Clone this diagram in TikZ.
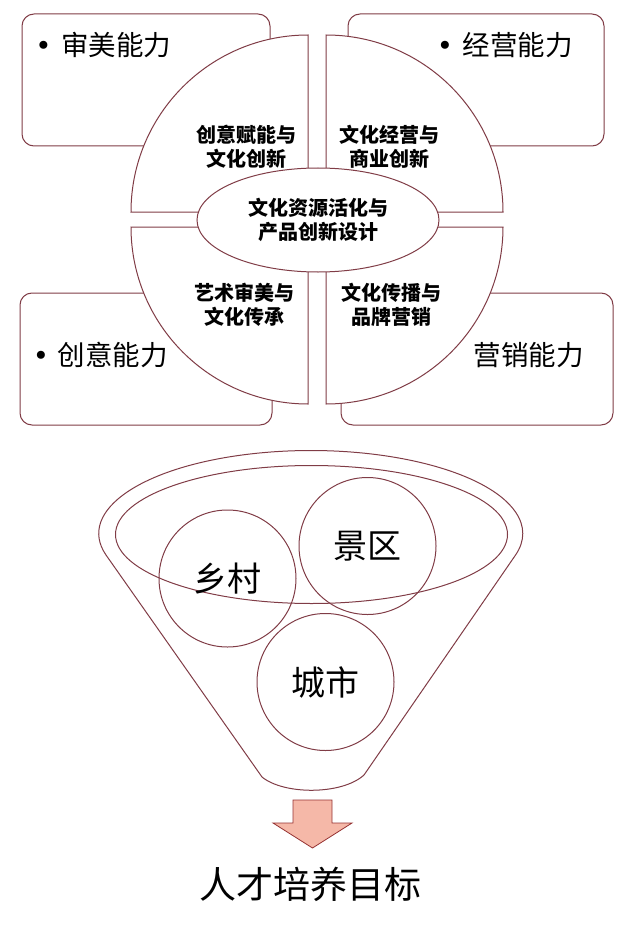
\documentclass[tikz,border=0pt]{standalone}
\usepackage{fontspec}
\setmainfont{Noto Sans CJK SC}
\newfontfamily\bul{DejaVu Sans}
\usetikzlibrary{shapes.geometric}
\definecolor{ln}{RGB}{128,60,70}
\definecolor{arrowfill}{RGB}{245,184,168}
\definecolor{arrowline}{RGB}{150,50,50}
\begin{document}
\begin{tikzpicture}[x=1pt,y=-1pt,line width=1pt,
  capbox/.style={draw=ln,fill=white,rounded corners=12pt,inner sep=0pt},
  quad/.style={draw=ln,fill=white},
  quadtext/.style={align=center,inner sep=0pt,font=\bfseries\fontsize{20}{24}\selectfont},
  captext/.style={anchor=west,inner sep=0pt,font=\fontsize{27.5}{30}\selectfont},
  place/.style={draw=ln,circle,minimum size=137pt,inner sep=0pt,font=\fontsize{34}{36}\selectfont},
  funnel/.style={draw=ln},
  goalarrow/.style={draw=arrowline,fill=arrowfill,line width=0.8pt}]
\useasboundingbox (0,0) rectangle (634,928);

% ability boxes
\node[capbox,minimum width=248pt,minimum height=132pt] (boxTL) at (146,80) {};
\node[capbox,minimum width=256pt,minimum height=132pt] (boxTR) at (476,80) {};
\node[capbox,minimum width=252pt,minimum height=132pt] (boxBL) at (146,359) {};
\node[capbox,minimum width=272pt,minimum height=132pt] (boxBR) at (477,359) {};

\node[captext] (capTL) at (60.5,45) {\llap{{\bul •}\hskip 9.5pt}审美能力};
\node[captext] (capTR) at (462,45) {\llap{{\bul •}\hskip 9.5pt}经营能力};
\node[captext] (capBL) at (57,355) {\llap{{\bul •}\hskip 8.3pt}创意能力};
\node[captext] (capBR) at (473,355) {营销能力};

% quadrants
\path[quad] (131,212) arc[start angle=180,end angle=270,radius=177] -- (308,212) -- cycle;
\path[quad] (326,35) arc[start angle=270,end angle=360,radius=177] -- (326,212) -- cycle;
\path[quad] (131,227) arc[start angle=180,end angle=90,radius=177] -- (308,227) -- cycle;
\path[quad] (326,404) arc[start angle=90,end angle=0,radius=177] -- (326,227) -- cycle;

\node[quadtext] (qTL) at (246,147) {创意赋能与\\文化创新};
\node[quadtext] (qTR) at (389,147) {文化经营与\\商业创新};
\node[quadtext] (qBL) at (244,305) {艺术审美与\\文化传承};
\node[quadtext] (qBR) at (391,305) {文化传播与\\品牌营销};

\node[draw=ln,fill=white,ellipse,minimum width=242pt,minimum height=104pt,inner sep=0pt,
      align=center,font=\bfseries\fontsize{20}{24}\selectfont] (core) at (318,220)
      {文化资源活化与\\产品创新设计};

% funnel
\draw[funnel] (262,777) -- (106,555)
   arc[start angle=165,end angle=375,x radius=212,y radius=83]
   -- (364,775) .. controls (342,795) and (284,795) .. cycle;
\draw[funnel] (311.5,534.5) ellipse[x radius=196,y radius=69];

\node[place] (rural) at (227.5,578.5) {乡村};
\node[place] (scenic) at (367.5,546) {景区};
\node[place] (city) at (325.5,682) {城市};

% arrow and goal
\path[goalarrow] (293,800) -- (332,800) -- (332,823) -- (352,823) -- (312.5,848)
   -- (273,823) -- (293,823) -- cycle;
\node[inner sep=0pt,font=\fontsize{37}{40}\selectfont] (goal) at (310,884) {人才培养目标};
\end{tikzpicture}
\end{document}
